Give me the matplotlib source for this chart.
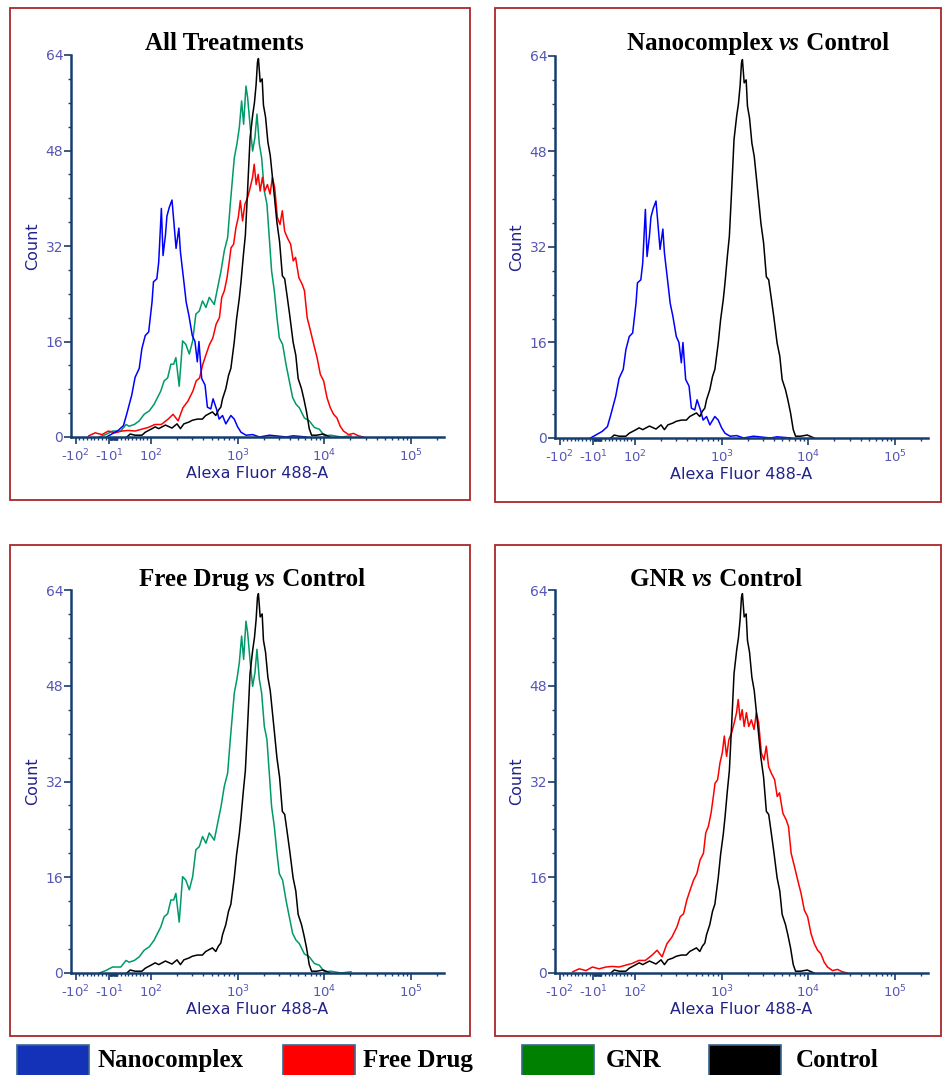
import numpy as np
import matplotlib
matplotlib.use("Agg")
import matplotlib.pyplot as plt
from matplotlib.patches import Rectangle

# ---------------- data (fluorescence intensity, count) ----------------
nano_x = [-18, 13, 27, 36, 49, 58, 69, 76, 85, 94, 103, 107, 117, 123, 132, 138, 147, 153, 163, 175,
          184, 195, 210, 219, 240, 255, 274, 300, 322, 343, 358, 385, 421, 448, 490, 521, 570, 612,
          670, 731, 836, 914, 1000, 1094, 1250, 1493, 1786, 2333, 3648, 4365, 6237]
nano_y = [0, 1.1, 1.9, 3.9, 7.0, 10.0, 11.5, 14.8, 17.0, 17.6, 22.6, 26.0, 26.5, 29.3, 38.3, 30.4,
          33.8, 37.0, 38.5, 39.7, 36.0, 31.6, 35.0, 31.0, 26.0, 22.6, 20.4, 17.0, 16.0, 12.6, 16.0,
          9.8, 8.7, 5.0, 4.7, 6.4, 4.7, 3.0, 3.6, 2.2, 3.6, 3.0, 1.7, 0.8, 0.3, 0.4, 0, 0.3, 0, 0.2, 0]

ctrl_x = [36, 45, 58, 76, 85, 103, 112, 123, 147, 175, 200, 219, 240, 274, 300, 343, 392, 429, 469,
          512, 560, 601, 640, 670, 731, 785, 836, 914, 973, 1045, 1094, 1164, 1228, 1306, 1390, 1493,
          1563, 1633, 1694, 1738, 1820, 1919, 1986, 2099, 2234, 2377, 2506, 2667, 2838, 3048, 3281,
          3491, 3715, 3990, 4365, 4688, 4989, 5450, 5803, 6237, 6699, 7129, 8150, 9733, 11640]
ctrl_y = [0, 0.5, 0.3, 0.3, 0.8, 1.4, 1.7, 1.4, 2.0, 1.5, 2.2, 1.4, 2.2, 2.5, 2.8, 3.0, 3.0, 3.6, 3.9,
          4.2, 3.6, 4.5, 5.0, 6.4, 8.1, 10.3, 11.5, 15.9, 19.8, 23.2, 26.0, 30.4, 33.8, 41.6, 50.0,
          54.0, 56.0, 59.0, 62.8, 63.4, 59.5, 60.0, 55.6, 53.6, 49.4, 47.2, 43.9, 40.0, 36.0, 32.7,
          27.0, 26.5, 23.7, 20.4, 15.9, 13.7, 9.8, 8.1, 6.4, 4.2, 1.4, 0.3, 0.3, 0.5, 0]

gnr_x = [-37, -20, -2, 20, 34, 42, 56, 69, 82, 96, 109, 119, 130, 142, 156, 170, 183, 194, 212, 232,
         253, 277, 303, 330, 361, 394, 431, 471, 538, 588, 643, 702, 767, 823, 875, 916, 982, 1045,
         1112, 1173, 1248, 1304, 1400, 1489, 1585, 1671, 1778, 1892, 2032, 2179, 2318, 2466, 2649,
         2844, 3027, 3305, 3611, 3945, 4312, 4711, 5150, 5879, 6710, 7670, 8755, 10000, 11940,
         15560, 20320]
gnr_y = [0, 0.4, 1.0, 1.0, 2.1, 1.8, 2.1, 2.7, 3.8, 4.4, 5.5, 6.6, 7.7, 9.4, 9.9, 12.2, 12.2, 13.3,
         8.5, 16.1, 15.5, 13.9, 16.1, 20.6, 21.1, 22.8, 21.7, 23.4, 22.2, 25.0, 27.8, 31.2, 33.4,
         39.0, 43.5, 46.8, 49.1, 51.8, 56.3, 52.4, 58.8, 56.9, 51.8, 47.9, 50.2, 54.1, 49.1, 46.8,
         41.2, 39.0, 33.4, 27.8, 24.5, 20.0, 16.6, 15.5, 12.2, 9.4, 6.6, 5.5, 4.9, 3.2, 2.7, 1.6,
         1.3, 0.2, 0.3, 0, 0.2]

drug_x = [-65, -48, -30, -13, 5, 23, 40, 58, 75, 93, 111, 132, 158, 180, 206, 234, 267, 305, 333,
          364, 397, 434, 474, 518, 565, 617, 656, 703, 755, 803, 839, 899, 957, 1018, 1074, 1141,
          1213, 1303, 1397, 1486, 1553, 1637, 1726, 1820, 1932, 2054, 2206, 2366, 2516, 2675, 2871,
          3083, 3275, 3483, 3740, 4085, 4379, 4656, 5085, 5550, 5902, 6339, 6918, 7552, 8245, 8995,
          9820, 10730, 11720, 12790, 13960, 15250, 16640, 19000, 21690, 24730, 28180]
drug_y = [0.2, 0.7, 0.4, 1.0, 0.7, 1.0, 1.1, 1.0, 1.3, 1.6, 2.1, 2.1, 3.0, 3.8, 2.7, 4.9, 6.0, 7.7,
          9.4, 9.9, 12.2, 13.9, 15.5, 16.6, 18.9, 20.0, 23.4, 24.5, 26.7, 29.5, 31.7, 32.3, 35.1,
          36.8, 39.6, 36.2, 39.0, 40.1, 41.8, 43.5, 45.7, 42.3, 44.0, 41.2, 43.5, 41.2, 42.3, 40.7,
          43.5, 41.8, 36.8, 35.6, 37.9, 34.5, 33.4, 32.3, 29.5, 30.1, 26.7, 25.6, 24.5, 20.0, 17.8,
          15.5, 13.3, 10.5, 9.4, 6.6, 4.9, 3.8, 3.2, 1.8, 1.0, 0.4, 0.6, 0.2, 0]

x_ticks = [-100, -10, 100, 1000, 10000, 100000]
x_tick_labels = ['-$10^2$', '-$10^1$', '$10^2$', '$10^3$', '$10^4$', '$10^5$']
y_ticks = [0, 16, 32, 48, 64]

legend_names = ['Nanocomplex', 'Free Drug', 'GNR', 'Control']
legend_colors = ['#1432b8', '#ff0000', '#008000', '#000000']

# ---------------- styling ----------------
W, H = 942, 1075
fig = plt.figure(figsize=(W / 100, H / 100), dpi=100)
fig.patch.set_facecolor('white')

AXC = '#163d6e'
TICKC = '#5656b4'
LBLC = '#22228a'
FRAME = '#a8282c'
BLUE, RED, GREEN, BLACK = '#0000ff', '#ff0000', '#00996a', '#000000'
SERIF = ['Liberation Serif', 'DejaVu Serif']

T = 100.0
LN10 = np.log(10.0)
C0 = np.log10(T) - 1.0 / LN10


def fwd(x):
    x = np.asarray(x, dtype=float)
    lg = np.log10(np.maximum(np.abs(x), T))
    lin = C0 + x / (T * LN10)
    return np.where(x > T, lg, np.where(x < -T, 2 * C0 - lg, lin))


def inv(y):
    y = np.asarray(y, dtype=float)
    hi = 10.0 ** np.clip(y, 2, 12)
    lo = -(10.0 ** np.clip(2 * C0 - y, 2, 12))
    lin = (y - C0) * T * LN10
    return np.where(y > 2, hi, np.where(y < 2 * C0 - 2, lo, lin))


minor_x = ([-k * 10 for k in range(2, 10)] + [-k for k in range(2, 10)] + list(range(2, 10)) +
           [k * 10 for k in range(1, 10)] + [k * 100 for k in range(2, 10)] +
           [k * 1000 for k in range(2, 10)] + [k * 10000 for k in range(2, 10)] + [200000])


def px_axes(l, r, t, b):
    return fig.add_axes([l / W, 1 - b / H, (r - l) / W, (b - t) / H])


def style_axes(ax):
    ax.set_xscale('function', functions=(fwd, inv))
    ax.set_xlim(-113, 2.4e5)
    ax.set_ylim(0, 64)
    ax.set_xticks(x_ticks)
    ax.set_xticklabels(x_tick_labels)
    ax.set_xticks(minor_x, minor=True)
    ax.set_xticklabels([], minor=True)
    ax.set_yticks(y_ticks)
    ax.set_yticks(np.arange(0, 65, 4), minor=True)
    for s in ('top', 'right'):
        ax.spines[s].set_visible(False)
    for s in ('left', 'bottom'):
        ax.spines[s].set_color(AXC)
        ax.spines[s].set_linewidth(1.8)
    ax.tick_params(which='major', direction='out', length=5, width=1.2, color=AXC,
                   labelcolor=TICKC)
    ax.tick_params(which='minor', direction='out', length=2.5, width=1.0, color=AXC)
    ax.tick_params(axis='x', which='major', labelsize=9.5, pad=3)
    ax.tick_params(axis='y', which='major', labelsize=10, pad=0.5)
    ax.set_xlabel('Alexa Fluor 488-A', fontsize=11.5, color=LBLC, labelpad=1)
    ax.set_ylabel('Count', fontsize=11.5, color=LBLC, labelpad=4)
    ax.patch.set_alpha(0)


curves = {
    'nano': (nano_x, nano_y, BLUE),
    'drug': (drug_x, drug_y, RED),
    'gnr': (gnr_x, gnr_y, GREEN),
    'ctrl': (ctrl_x, ctrl_y, BLACK),
}

panels = [
    ((71, 444, 55, 437), ['gnr', 'drug', 'nano', 'ctrl']),
    ((555, 928, 56, 438), ['nano', 'ctrl']),
    ((71, 444, 590, 973), ['gnr', 'ctrl']),
    ((555, 928, 590, 973), ['drug', 'ctrl']),
]

for (l, r, t, b), keys in panels:
    ax = px_axes(l, r, t, b)
    style_axes(ax)
    for k in keys:
        xs, ys, col = curves[k]
        ax.plot(xs, ys, color=col, lw=1.1)

# panel frames
frames = [(10, 470, 8, 500), (495, 941, 8, 502), (10, 470, 545, 1036), (495, 941, 545, 1036)]
for x0, x1, y0, y1 in frames:
    fig.patches.append(Rectangle((x0 / W, 1 - y1 / H), (x1 - x0) / W, (y1 - y0) / H,
                                 transform=fig.transFigure, fill=False, ec=FRAME, lw=1.3))

# titles with italic "vs"
renderer = fig.canvas.get_renderer()


def rich_title(xc, yb, parts, size=18):
    texts = []
    for s, st in parts:
        texts.append(fig.text(0, 1 - yb / H, s, fontsize=size, fontweight='bold', fontstyle=st,
                              family=SERIF, ha='left', va='baseline'))
    widths = [t.get_window_extent(renderer).width for t in texts]
    x = xc - sum(widths) / 2
    for t, w in zip(texts, widths):
        t.set_x(x / W)
        x += w


rich_title(224, 50, [('All Treatments', 'normal')])
rich_title(758, 50, [('Nanocomplex ', 'normal'), ('vs', 'italic'), (' Control', 'normal')])
rich_title(252, 586, [('Free Drug ', 'normal'), ('vs', 'italic'), (' Control', 'normal')])
rich_title(716, 586, [('GNR ', 'normal'), ('vs', 'italic'), (' Control', 'normal')])

# legend
sq_x = [17, 283, 522, 709]
txt_x = [97, 363, 606, 796]
for name, col, sx, tx in zip(legend_names, legend_colors, sq_x, txt_x):
    fig.patches.append(Rectangle((sx / W, 1 - 1077 / H), 72 / W, 32 / H, transform=fig.transFigure,
                                 fc=col, ec='#3a6690', lw=1.2))
    fig.text(tx / W, 1 - 1067 / H, name, fontsize=18, fontweight='bold', family=SERIF,
             ha='left', va='baseline', color='black')

fig.savefig('out.png', dpi=100)
